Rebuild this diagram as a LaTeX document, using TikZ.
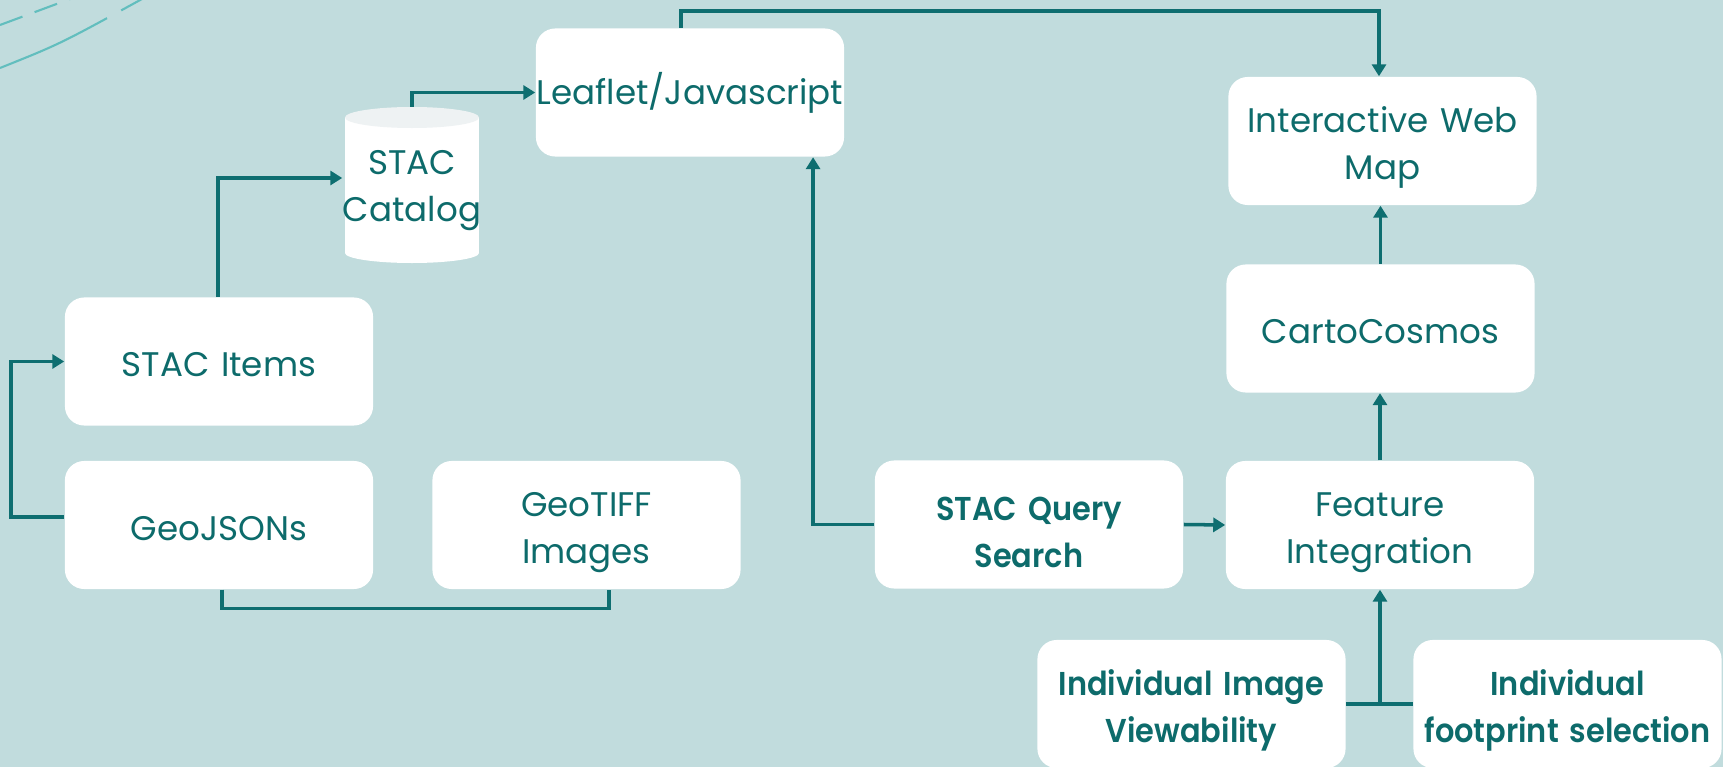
\documentclass[tikz,border=0pt]{standalone}
\usepackage{fontspec}
\setmainfont{Poppins}[BoldFont={Poppins SemiBold}, BoldFeatures={FakeStretch=0.92}]
\usetikzlibrary{arrows.meta}

\definecolor{bgteal}{RGB}{193,220,221}
\definecolor{inkteal}{RGB}{13,107,107}
\definecolor{lineteal}{RGB}{14,110,112}
\definecolor{arcteal}{RGB}{98,190,190}
\definecolor{cyltop}{RGB}{238,242,243}

\begin{document}
\begin{tikzpicture}[x=0.01cm, y=-0.01cm,
  box/.style={fill=white, rounded corners=5.5pt, minimum width=3.08cm, minimum height=1.28cm,
    text width=3.08cm, inner sep=0pt, align=center, text=inkteal, font=\fontsize{9.7}{13.4}\selectfont,
    execute at begin node=\rule{0pt}{8.9pt}},
  twoline/.style={execute at begin node=\rule{0pt}{11pt}},
  boldbox/.style={box, twoline, font=\fontsize{9.4}{13.4}\selectfont\bfseries},
  link/.style={draw=lineteal, line width=1pt},
  arr/.style={link, -{Triangle[length=3.4pt,width=4pt]}}]
  % Background and frame
  \fill[bgteal] (0,0) rectangle (1723,767);
  \useasboundingbox (0,0) rectangle (1723,767);
  % Dashed arcs in the corner
  \draw[arcteal, line width=0.6pt, dash pattern=on 33.6pt off 4.6pt] (0,68) .. controls (60,44) .. (142,-1);
  \draw[arcteal, line width=0.6pt, dash pattern=on 6.8pt off 3.7pt] (0,25) .. controls (35,12) .. (70,-1);
  % Catalog cylinder
  \fill[white] (345,117.5) rectangle (479,253);
  \fill[white] (412,253) ellipse [x radius=0.67cm, y radius=0.1cm];
  \fill[cyltop] (412,117.5) ellipse [x radius=0.67cm, y radius=0.105cm];
  \node[text=inkteal, align=center, font=\fontsize{9.7}{13.4}\selectfont, minimum width=1.34cm,
    minimum height=1.56cm, inner sep=0pt] (catalog) at (412,191) {STAC\\Catalog};
  % Boxes
  \node[box] (items) at (219,361.5) {STAC Items};
  \node[box] (geojson) at (219,525) {GeoJSONs};
  \node[box, twoline] (geotiff) at (586.5,525) {GeoTIFF\\Images};
  \node[box] (leaflet) at (690,92.5) {Leaflet/Javascript};
  \node[boldbox] (query) at (1029,524.5) {STAC Query\\Search};
  \node[box, twoline] (feature) at (1380,525) {Feature\\Integration};
  \node[box] (carto) at (1380.5,328.5) {CartoCosmos};
  \node[box, twoline] (webmap) at (1382.5,141) {Interactive Web\\Map};
  \node[boldbox] (view) at (1191.5,704) {Individual Image\\Viewability};
  \node[boldbox] (foot) at (1567.5,704) {Individual\\footprint selection};
  % Connectors
  \draw[arr] ([yshift=0.08cm]geojson.west) -- ++(-53,0) |- (items.west);
  \draw[arr] ([xshift=-0.01cm]items.north) |- ([yshift=0.13cm]catalog.west);
  \draw[arr] (412,107) |- (leaflet.west);
  \draw[arr] ([xshift=-0.09cm]leaflet.north) -- ++(0,-17) -| ([xshift=-0.035cm]webmap.north);
  \draw[arr] (carto.north) -- (carto.north |- webmap.south);
  \draw[arr] (feature.north) -- (feature.north |- carto.south);
  \draw[arr] (query.east) -- (feature.west);
  \draw[arr] (query.west) -| ([xshift=1.23cm]leaflet.south);
  \draw[link] ([xshift=0.03cm]geojson.south) -- ++(0,19) -| ([xshift=0.225cm]geotiff.south);
  \draw[link] (view.east) -- (foot.west);
  \draw[arr] (view.east -| feature.south) -- (feature.south);
\end{tikzpicture}
\end{document}
